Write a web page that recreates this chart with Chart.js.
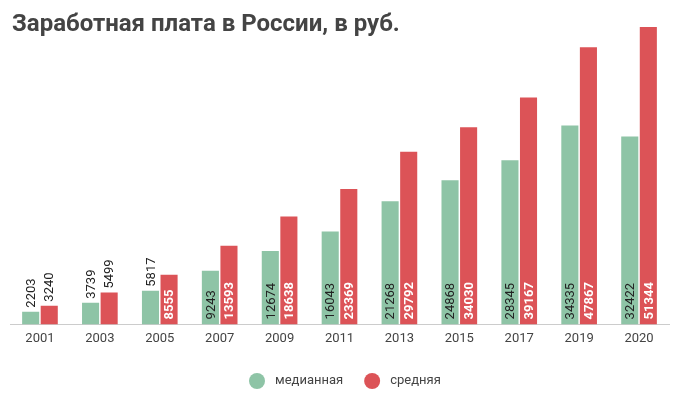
<!DOCTYPE html>
<html>
<head>
<meta charset="utf-8">
<script src="https://cdn.jsdelivr.net/npm/chart.js@4/dist/chart.umd.min.js"></script>
<style>
  html, body { margin: 0; padding: 0; background: #fff; }
  #wrap { position: relative; width: 679px; height: 399px; }
  #title { position: absolute; left: 12px; top: 9px; font-family: Roboto, sans-serif; font-weight: bold; font-size: 24px; color: #444; white-space: nowrap; }
  canvas { position: absolute; left: 0; top: 0; }
</style>
</head>
<body>
<div id="wrap">
  <canvas id="c" width="679" height="399"></canvas>
  <div id="title">Заработная плата в России, в руб.</div>
</div>
<script>
const years = ['2001','2003','2005','2007','2009','2011','2013','2015','2017','2019','2020'];
const medianValues = [2203, 3739, 5817, 9243, 12674, 16043, 21268, 24868, 28345, 34335, 32422];
const averageValues = [3240, 5499, 8555, 13593, 18638, 23369, 29792, 34030, 39167, 47867, 51344];
const seriesNames = ['медианная', 'средняя'];

const GREEN = '#8EC4A6';
const RED = '#DC5357';

const labelPlugin = {
  id: 'barLabels',
  afterDatasetsDraw(chart) {
    const ctx = chart.ctx;
    chart.data.datasets.forEach((ds, di) => {
      const meta = chart.getDatasetMeta(di);
      meta.data.forEach((bar, i) => {
        const txt = String(ds.data[i]);
        const h = bar.base - bar.y;
        ctx.save();
        ctx.font = '13px Roboto';
        const w = ctx.measureText(txt).width;
        const inside = h > w + 8;
        ctx.translate(bar.x, inside ? bar.base - 5 : bar.y - 4);
        ctx.rotate(-Math.PI / 2);
        ctx.textAlign = 'left';
        ctx.textBaseline = 'middle';
        if (inside && di === 1) {
          ctx.font = 'bold 13px Roboto';
          ctx.fillStyle = '#ffffff';
        } else {
          ctx.font = '13px Roboto';
          ctx.fillStyle = '#222222';
        }
        ctx.fillText(txt, 0, 1);
        ctx.restore();
      });
    });
  }
};

const legendPlugin = {
  id: 'customLegend',
  afterDraw(chart) {
    const ctx = chart.ctx;
    let x = 249;
    const y = 381;
    ctx.save();
    ctx.font = '13px Roboto';
    ctx.textBaseline = 'middle';
    ctx.textAlign = 'left';
    chart.data.datasets.forEach((ds) => {
      ctx.fillStyle = ds.backgroundColor;
      ctx.beginPath();
      ctx.arc(x + 8, y, 8, 0, Math.PI * 2);
      ctx.fill();
      ctx.fillStyle = '#444';
      ctx.fillText(ds.label, x + 26, y);
      x += 26 + ctx.measureText(ds.label).width + 21;
    });
    ctx.restore();
  }
};

new Chart(document.getElementById('c'), {
  type: 'bar',
  data: {
    labels: years,
    datasets: [
      { label: seriesNames[0], data: medianValues, backgroundColor: GREEN, borderWidth: 0 },
      { label: seriesNames[1], data: averageValues, backgroundColor: RED, borderWidth: 0 }
    ]
  },
  options: {
    responsive: false,
    animation: false,
    devicePixelRatio: 1,
    categoryPercentage: 0.62,
    barPercentage: 0.92,
    layout: { padding: { left: 10, right: 10, top: 27, bottom: 45 } },
    scales: {
      x: {
        grid: { display: false, drawTicks: false },
        border: { display: true, color: '#cccccc', width: 1 },
        ticks: { color: '#444', font: { family: 'Roboto', size: 13 }, padding: 7 }
      },
      y: {
        display: false,
        min: 0,
        max: Math.max(...averageValues)
      }
    },
    plugins: {
      legend: { display: false },
      tooltip: { enabled: false },
      title: { display: false }
    }
  },
  plugins: [labelPlugin, legendPlugin]
});
</script>
</body>
</html>
